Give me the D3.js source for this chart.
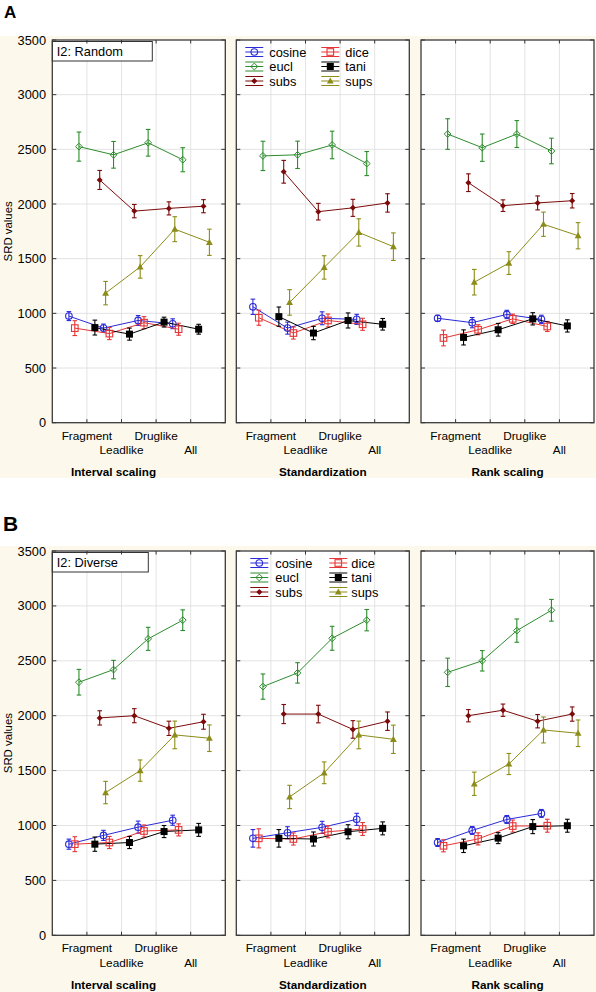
<!DOCTYPE html>
<html><head><meta charset="utf-8">
<script src="https://cdn.jsdelivr.net/npm/d3@7"></script>
<style>body{margin:0;background:#fff}svg{display:block}text{font-family:"Liberation Sans",Arial,sans-serif}</style>
</head><body>
<svg id="c" width="596" height="992"></svg>
<script>
const categories = ["Fragment","Leadlike","Druglike","All"];
const seriesNames = ["cosine","dice","eucl","tani","subs","sups"];
const panelTitles = ["Interval scaling","Standardization","Rank scaling"];
const rowLetters = ["A","B"];
const rowLabels = ["I2: Random","I2: Diverse"];
const yTicks = [0,500,1000,1500,2000,2500,3000,3500];

// means / errors: rows follow seriesNames order
const A1_mean = [[975,865,935,905],[865,815,915,855],[2525,2450,2560,2405],[870,810,920,855],[2220,1935,1960,1980],[1185,1425,1770,1650]];
const A1_err  = [[41,37,45,45],[68,55,55,55],[133,122,122,110],[68,55,45,45],[87,61,60,60],[107,103,114,120]];
const A2_mean = [[1060,865,955,945],[960,820,935,900],[2440,2450,2540,2370],[970,820,935,900],[2295,1930,1965,2010],[1100,1420,1740,1610]];
const A2_err  = [[70,55,59,46],[69,55,59,55],[134,125,126,110],[88,61,69,53],[104,76,78,84],[117,107,125,126]];
const A3_mean = [[955,915,990,945],[775,850,950,880],[2640,2515,2640,2485],[780,850,950,885],[2195,1985,2010,2030],[1285,1460,1815,1710]];
const A3_err  = [[27,47,38,38],[72,46,43,46],[140,125,123,117],[69,58,56,56],[81,53,64,66],[117,104,111,120]];
const B1_mean = [[830,910,985,1048],[830,845,950,960],[2305,2420,2700,2870],[830,845,945,960],[1980,2000,1885,1945],[1300,1500,1825,1795]];
const B1_err  = [[46,46,55,46],[68,55,55,55],[117,84,105,94],[65,55,55,59],[65,64,65,68],[102,97,126,121]];
const B2_mean = [[883,934,983,1056],[883,877,943,968],[2265,2390,2705,2870],[883,877,943,974],[2015,2015,1875,1950],[1260,1480,1825,1785]];
const B2_err  = [[80,55,55,55],[87,55,55,59],[115,93,109,97],[80,64,64,59],[87,80,80,84],[106,99,126,129]];
const B3_mean = [[845,955,1055,1110],[815,878,995,998],[2395,2500,2775,2960],[815,885,990,998],[2000,2050,1950,2015],[1380,1560,1870,1840]];
const B3_err  = [[36,36,36,36],[55,55,55,59],[129,93,106,99],[61,50,64,59],[56,56,61,65],[106,96,118,121]];

const data = [[[A1_mean,A1_err],[A2_mean,A2_err],[A3_mean,A3_err]],[[B1_mean,B1_err],[B2_mean,B2_err],[B3_mean,B3_err]]];

// styling
const colors = {cosine:"#2a2ad8",dice:"#e63535",eucl:"#2c8c2c",tani:"#000000",subs:"#7c0a0a",sups:"#8c8c18"};
const offsets = {cosine:-0.52,dice:-0.35,eucl:-0.23,tani:0.23,subs:0.37,sups:0.54};

const svg = d3.select("#c");
const panelX = [52.3,236.3,421];
const panelW = 173;
const rowTop = [40,551];
const rowBottom = [422.7,935.3];
const legendOff = [{g1:9,t1:33,g2:85,t2:109},{g1:14,t1:39,g2:93,t2:115}];

function marker(g, name, x, y){
  const c = colors[name];
  if(name==="cosine") g.append("circle").attr("cx",x).attr("cy",y).attr("r",3.3).attr("fill","none").attr("stroke",c).attr("stroke-width",1.1);
  else if(name==="dice") g.append("rect").attr("x",x-3.3).attr("y",y-3.3).attr("width",6.6).attr("height",6.6).attr("fill","none").attr("stroke",c).attr("stroke-width",1.1);
  else if(name==="tani") g.append("rect").attr("x",x-3.5).attr("y",y-3.5).attr("width",7).attr("height",7).attr("fill",c);
  else if(name==="eucl") g.append("path").attr("d",`M${x},${y-3.4}L${x+3.4},${y}L${x},${y+3.4}L${x-3.4},${y}Z`).attr("fill","none").attr("stroke",c).attr("stroke-width",1);
  else if(name==="subs") g.append("path").attr("d",`M${x},${y-3}L${x+3},${y}L${x},${y+3}L${x-3},${y}Z`).attr("fill",c);
  else if(name==="sups") g.append("path").attr("d",`M${x},${y-3.6}L${x+3.4},${y+2.6}L${x-3.4},${y+2.6}Z`).attr("fill",c);
}

// cream backgrounds
svg.append("rect").attr("x",0).attr("y",36).attr("width",596).attr("height",442).attr("fill","#fcf9ec");
svg.append("rect").attr("x",0).attr("y",546).attr("width",596).attr("height",446).attr("fill","#fcf9ec");

rowLetters.forEach((L,ri)=>{
  svg.append("text").attr("x",ri===0?4:3).attr("y",ri===0?17.5:531).attr("font-weight","bold").attr("font-size",ri===0?17:21).text(L);
  const y = d3.scaleLinear().domain([0,3500]).range([rowBottom[ri],rowTop[ri]]);
  // y label
  svg.append("text").attr("transform",`translate(11.5,${(rowTop[ri]+rowBottom[ri])/2}) rotate(-90)`).attr("text-anchor","middle").attr("font-size",11.4).text("SRD values");
  panelTitles.forEach((title,pi)=>{
    const x0 = panelX[pi];
    const x = d3.scaleLinear().domain([0,5]).range([x0,x0+panelW]);
    const g = svg.append("g");
    g.append("rect").attr("x",x0).attr("y",rowTop[ri]).attr("width",panelW).attr("height",rowBottom[ri]-rowTop[ri]).attr("fill","#fff");
    // gridlines
    yTicks.slice(1,-1).forEach(t=>{
      g.append("line").attr("x1",x0).attr("x2",x0+panelW).attr("y1",y(t)).attr("y2",y(t)).attr("stroke","#dcdcdc").attr("stroke-width",0.8);
    });
    categories.forEach((c,ci)=>{
      g.append("line").attr("x1",x(ci+1)).attr("x2",x(ci+1)).attr("y1",rowTop[ri]).attr("y2",rowBottom[ri]).attr("stroke","#dcdcdc").attr("stroke-width",0.8);
    });
    // legend / label box
    if(pi===0){
      g.append("rect").attr("x",x0).attr("y",rowTop[ri]+1.5).attr("width",ri===0?100:96).attr("height",19.5).attr("fill","#fff").attr("stroke","#333").attr("stroke-width",1);
      g.append("text").attr("x",x0+4.5).attr("y",rowTop[ri]+16).attr("font-size",12.8).text(rowLabels[ri]);
    }
    if(pi===1){
      const lo = legendOff[ri];
      const cols = [["cosine","eucl","subs"],["dice","tani","sups"]];
      cols.forEach((col,k)=>{
        col.forEach((name,j)=>{
          const cy = rowTop[ri]+12+j*14.5;
          const gx = x0+(k===0?lo.g1:lo.g2);
          [-4.5,0,4.5].forEach(d=>{
            g.append("line").attr("x1",gx).attr("x2",gx+18).attr("y1",cy+d).attr("y2",cy+d).attr("stroke",colors[name]).attr("stroke-width",1);
          });
          marker(g,name,gx+9,cy);
          g.append("text").attr("x",x0+(k===0?lo.t1:lo.t2)).attr("y",cy+4.6).attr("font-size",12.8).text(name);
        });
      });
    }
    // series
    const [means,errs] = data[ri][pi];
    seriesNames.forEach((name,si)=>{
      const pts = means[si].map((v,ci)=>({x:x(ci+1+offsets[name]),y:y(v),lo:y(v-errs[si][ci]),hi:y(v+errs[si][ci])}));
      g.append("path").attr("d",d3.line().x(d=>d.x).y(d=>d.y)(pts)).attr("fill","none").attr("stroke",colors[name]).attr("stroke-width",1);
      pts.forEach(p=>{
        g.append("line").attr("x1",p.x).attr("x2",p.x).attr("y1",p.lo).attr("y2",p.hi).attr("stroke",colors[name]).attr("stroke-width",1.1);
        [p.lo,p.hi].forEach(yy=>g.append("line").attr("x1",p.x-2.3).attr("x2",p.x+2.3).attr("y1",yy).attr("y2",yy).attr("stroke",colors[name]).attr("stroke-width",1.1));
      });
    });
    seriesNames.forEach((name,si)=>{
      means[si].forEach((v,ci)=>marker(g,name,x(ci+1+offsets[name]),y(v)));
    });
    // ticks inside
    yTicks.forEach(t=>{
      g.append("line").attr("x1",x0).attr("x2",x0+4).attr("y1",y(t)).attr("y2",y(t)).attr("stroke","#333");
      g.append("line").attr("x1",x0+panelW-4).attr("x2",x0+panelW).attr("y1",y(t)).attr("y2",y(t)).attr("stroke","#333");
    });
    categories.forEach((c,ci)=>{
      g.append("line").attr("x1",x(ci+1)).attr("x2",x(ci+1)).attr("y1",rowBottom[ri]).attr("y2",rowBottom[ri]-3.5).attr("stroke","#333");
      g.append("line").attr("x1",x(ci+1)).attr("x2",x(ci+1)).attr("y1",rowTop[ri]).attr("y2",rowTop[ri]+3.5).attr("stroke","#333");
    });
    // border
    g.append("rect").attr("x",x0).attr("y",rowTop[ri]).attr("width",panelW).attr("height",rowBottom[ri]-rowTop[ri]).attr("fill","none").attr("stroke","#3a3a3a").attr("stroke-width",1.3);
    // x labels
    categories.forEach((c,ci)=>{
      g.append("text").attr("x",x(ci+1)).attr("y",rowBottom[ri]+(ci%2===0?17:31.3)).attr("text-anchor","middle").attr("font-size",11.8).text(c);
    });
    g.append("text").attr("x",pi===0?113.5:x0+panelW/2).attr("y",rowBottom[ri]+53.2).attr("text-anchor","middle").attr("font-weight","bold").attr("font-size",11.7).text(title);
    // y tick labels
    if(pi===0){
      yTicks.forEach(t=>{
        g.append("text").attr("x",46).attr("y",y(t)+4.5).attr("text-anchor","end").attr("font-size",12.8).text(t);
      });
    }
  });
});
</script>
</body></html>
